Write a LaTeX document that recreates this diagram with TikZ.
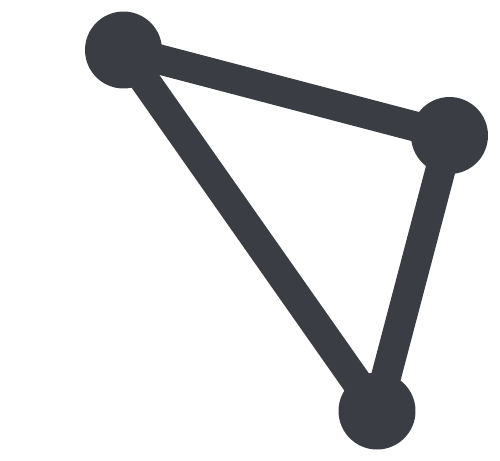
\documentclass[tikz,border=0pt]{standalone}
\usepackage{tikz}
\usetikzlibrary{positioning}

\definecolor{graphgray}{HTML}{3A3D44}

\begin{document}
\begin{tikzpicture}[
        x=0.02cm, y=-0.02cm,
        vertex/.style={
            circle,
            fill=graphgray,
            inner sep=0pt,
            minimum size=1.54cm
        },
        edge/.style={line width=0.6cm, draw=graphgray}
    ]
        \useasboundingbox (0,0) rectangle (500,460);

        \node[vertex] (top) at (123.5,50) {};
        \node[vertex] (right) at (449.5,135.5) {};
        \node[vertex] (bottom) at (377,411) {};

        \draw[edge] (top.center) -- (right.center);
        \draw[edge] (right.center) -- (bottom.center);
        \draw[edge] (bottom.center) -- (top.center);
    \end{tikzpicture}
\end{document}
